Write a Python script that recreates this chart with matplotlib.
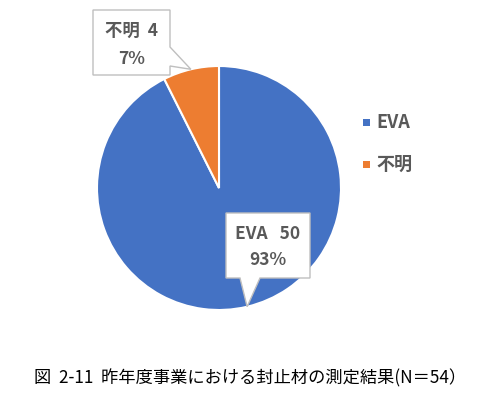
import numpy as np
import matplotlib.pyplot as plt
from matplotlib.patches import Polygon

plt.rcParams['font.family'] = ['Noto Sans CJK JP', 'DejaVu Sans']

labels = ['EVA', '不明']
counts = [50, 4]
colors = ['#4472C4', '#ED7D31']
caption = '図  2-11  昨年度事業における封止材の測定結果(N＝54）'

total = sum(counts)
W, H = 498, 396
fig = plt.figure(figsize=(W / 100, H / 100), dpi=100)

# pie centre and radius in pixels (top-down y)
cx, cy, R = 219, 188, 122
ax = fig.add_axes([0, 0, 1, 1])

wedges, _ = ax.pie(counts, colors=colors, startangle=90, counterclock=False,
                   radius=1, center=(0, 0), frame=True,
                   wedgeprops=dict(edgecolor='white', linewidth=1.5))
ax.set_xlim(-cx / R, (W - cx) / R)
ax.set_ylim(-(H - cy) / R, cy / R)
ax.set_aspect('auto')
ax.axis('off')


def px(x, y):
    # pixel (top-down) -> data
    return ((x - cx) / R, (cy - y) / R)


def tip_of(w):
    a = np.deg2rad((w.theta1 + w.theta2) / 2)
    return np.cos(a), np.sin(a)


gray = '#595959'
edge = '#BFBFBF'
fs = 12.5

# callout for 不明 (pointer on right side)
tx, ty = tip_of(wedges[1])
x0, y0 = px(93, 10)
x1, y1 = px(170, 75)
_, n0 = px(0, 47)
_, n1 = px(0, 66)
poly = [(x0, y0), (x1, y0), (x1, n0), (tx, ty), (x1, n1), (x1, y1), (x0, y1)]
ax.add_patch(Polygon(poly, closed=True, fc='white', ec=edge, lw=1, zorder=3))
ax.text((x0 + x1) / 2, px(0, 31)[1], f'{labels[1]}  {counts[1]}', ha='center', va='center',
        fontsize=fs, fontweight='bold', color=gray, zorder=4)
ax.text((x0 + x1) / 2, px(0, 59)[1], f'{counts[1] / total:.0%}', ha='center', va='center',
        fontsize=fs, fontweight='bold', color=gray, zorder=4)

# callout for EVA (pointer at bottom)
tx, ty = tip_of(wedges[0])
x0, y0 = px(226, 213)
x1, y1 = px(310, 278)
m0, _ = px(240, 0)
m1, _ = px(260, 0)
poly = [(x0, y0), (x1, y0), (x1, y1), (m1, y1), (tx, ty), (m0, y1), (x0, y1)]
ax.add_patch(Polygon(poly, closed=True, fc='white', ec=edge, lw=1, zorder=3))
ax.text((x0 + x1) / 2, px(0, 234)[1], f'{labels[0]}   {counts[0]}', ha='center', va='center',
        fontsize=fs, fontweight='bold', color=gray, zorder=4)
ax.text((x0 + x1) / 2, px(0, 260)[1], f'{counts[0] / total:.0%}', ha='center', va='center',
        fontsize=fs, fontweight='bold', color=gray, zorder=4)

# legend
for i, (lab, col) in enumerate(zip(labels, colors)):
    ly = 122 + i * 42
    fig.patches.append(plt.Rectangle((363 / W, (H - ly - 3.5) / H), 7 / W, 7 / H,
                                     transform=fig.transFigure, fc=col, ec='none'))
    fig.text(376 / W, (H - ly) / H, lab, ha='left', va='center',
             fontsize=13, fontweight='bold', color=gray)

fig.text(250 / W, (H - 378) / H, caption, ha='center', va='center',
         fontsize=12.4, color='black')

fig.savefig('out.png', dpi=100)
